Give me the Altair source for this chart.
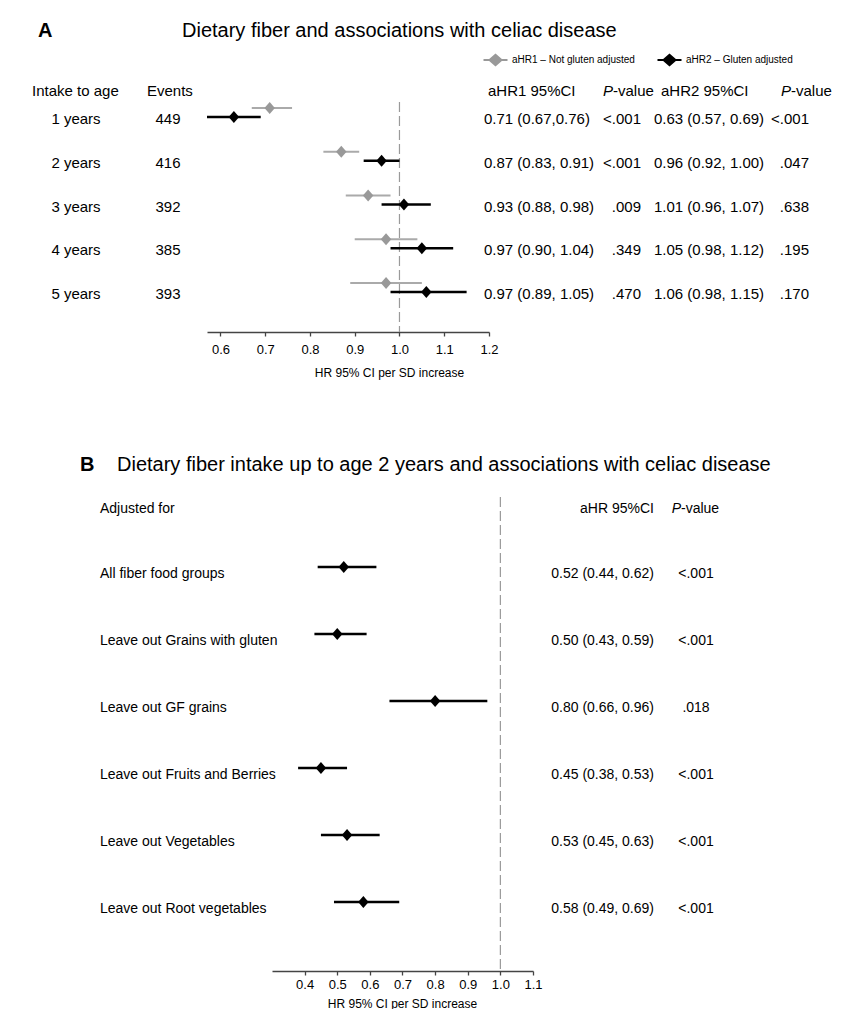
import altair as alt
import pandas as pd

FONT = "Liberation Sans"
GRAY_LINE = "#aaaaaa"
GRAY_PT = "#999999"
DIAMOND = "M0,-1.15L1,0L0,1.15L-1,0Z"
LEG_SYMBOL = "M-1.6,-0.13L1.6,-0.13L1.6,0.13L-1.6,0.13Z M0,-0.87L1,0L0,0.87L-1,0Z"

# ---------------- Panel A data ----------------
series = ["aHR1 \u2013 Not gluten adjusted", "aHR2 \u2013 Gluten adjusted"]
rows_a = [1, 2, 3, 4, 5]
ages = ["1 years", "2 years", "3 years", "4 years", "5 years"]
events = ["449", "416", "392", "385", "393"]
hr1 = [0.71, 0.87, 0.93, 0.97, 0.97]
lo1 = [0.67, 0.83, 0.88, 0.90, 0.89]
hi1 = [0.76, 0.91, 0.98, 1.04, 1.05]
p1 = ["<.001", "<.001", ".009", ".349", ".470"]
ci1_text = ["0.71 (0.67,0.76)", "0.87 (0.83, 0.91)", "0.93 (0.88, 0.98)",
            "0.97 (0.90, 1.04)", "0.97 (0.89, 1.05)"]
hr2 = [0.63, 0.96, 1.01, 1.05, 1.06]
lo2 = [0.57, 0.92, 0.96, 0.98, 0.98]
hi2 = [0.69, 1.00, 1.07, 1.12, 1.15]
p2 = ["<.001", ".047", ".638", ".195", ".170"]
ci2_text = ["0.63 (0.57, 0.69)", "0.96 (0.92, 1.00)", "1.01 (0.96, 1.07)",
            "1.05 (0.98, 1.12)", "1.06 (0.98, 1.15)"]
ticks_a = [0.6, 0.7, 0.8, 0.9, 1.0, 1.1, 1.2]

# ---------------- Panel B data ----------------
rows_b = [1, 2, 3, 4, 5, 6]
adjusted = ["All fiber food groups", "Leave out Grains with gluten", "Leave out GF grains",
            "Leave out Fruits and Berries", "Leave out Vegetables", "Leave out Root vegetables"]
hrb = [0.52, 0.50, 0.80, 0.45, 0.53, 0.58]
lob = [0.44, 0.43, 0.66, 0.38, 0.45, 0.49]
hib = [0.62, 0.59, 0.96, 0.53, 0.63, 0.69]
cib_text = ["0.52 (0.44, 0.62)", "0.50 (0.43, 0.59)", "0.80 (0.66, 0.96)",
            "0.45 (0.38, 0.53)", "0.53 (0.45, 0.63)", "0.58 (0.49, 0.69)"]
pb = ["<.001", "<.001", ".018", "<.001", "<.001", "<.001"]
ticks_b = [0.4, 0.5, 0.6, 0.7, 0.8, 0.9, 1.0, 1.1]
ref_value = [1.0]

axis_title = "HR 95% CI per SD increase"

dfA1 = pd.DataFrame({"row": rows_a, "series": series[0], "hr": hr1, "lo": lo1, "hi": hi1})
dfA2 = pd.DataFrame({"row": rows_a, "series": series[1], "hr": hr2, "lo": lo2, "hi": hi2})
dfAt = pd.DataFrame({"row": rows_a, "age": ages, "events": events, "ci1": ci1_text,
                     "p1": p1, "ci2": ci2_text, "p2": p2})
dfB = pd.DataFrame({"row": rows_b, "adj": adjusted, "hr": hrb, "lo": lob, "hi": hib,
                    "ci": cib_text, "p": pb})
dfRef = pd.DataFrame({"ref": ref_value})


def label(text, x, y, size, align="left", weight="normal", style="normal"):
    return alt.Chart(pd.DataFrame({"t": [text]})).mark_text(
        align=align, baseline="middle", font=FONT, fontSize=size,
        fontWeight=weight, fontStyle=style, color="black"
    ).encode(x=alt.value(x), y=alt.value(y), text="t:N")


def make_axis(values, title_x, title_y, label_pad):
    return alt.Axis(values=values, format=".1f", title=axis_title, grid=False,
                    labelFont=FONT, labelFontSize=13, labelColor="black",
                    labelPadding=label_pad, labelFlush=False, labelOverlap=False,
                    tickSize=4, tickColor="#444444", tickWidth=1.3,
                    domainColor="#444444", domainWidth=1.3,
                    titleFont=FONT, titleFontSize=12, titleFontWeight="normal",
                    titleColor="black", titleX=title_x, titleY=title_y,
                    titleAlign="center", titleBaseline="middle")


# ---------------- Panel A ----------------
WA, HA = 840, 324
xA = alt.Scale(domain=[0.57, 1.2], range=[199, 481], nice=False, zero=False)
yA = alt.Scale(domain=[1, 5], range=[109, 284], nice=False, zero=False)
axA = make_axis(ticks_a, 381, 40, 7)
colA = alt.Scale(domain=series, range=[GRAY_PT, "black"])
legA = alt.Legend(title=None, orient="none", legendX=480, legendY=44,
                  direction="horizontal", padding=0, symbolType=LEG_SYMBOL,
                  symbolSize=225, symbolStrokeWidth=0, symbolOpacity=1,
                  labelFont=FONT, labelFontSize=10, labelColor="black",
                  labelOffset=9, columnPadding=22)


def ci_layer(df, yoff, sw, color):
    return alt.Chart(df).mark_rule(strokeWidth=sw, yOffset=yoff, color=color).encode(
        x=alt.X("lo:Q", scale=xA, axis=axA),
        x2="hi:Q",
        y=alt.Y("row:Q", scale=yA, axis=None),
    )


def pt_layer(df, yoff):
    return alt.Chart(df).mark_point(filled=True, shape=DIAMOND, size=110, opacity=1,
                                    yOffset=yoff).encode(
        x=alt.X("hr:Q", scale=xA, axis=axA),
        y=alt.Y("row:Q", scale=yA, axis=None),
        color=alt.Color("series:N", scale=colA, legend=legA),
    )


refA = alt.Chart(dfRef).mark_rule(color="#9a9a9a", strokeWidth=1.2, strokeDash=[10, 4]).encode(
    x=alt.X("ref:Q", scale=xA, axis=axA), y=alt.value(94), y2=alt.value(324))


def col_text(field, x, align, size=15, dy=2):
    return alt.Chart(dfAt).mark_text(align=align, baseline="middle", font=FONT,
                                     fontSize=size, color="black", dy=dy).encode(
        x=alt.value(x), y=alt.Y("row:Q", scale=yA, axis=None), text=f"{field}:N")


panelA = alt.layer(
    refA,
    ci_layer(dfA1, -9, 2, GRAY_LINE), pt_layer(dfA1, -9),
    ci_layer(dfA2, 0, 2.5, "black"), pt_layer(dfA2, 0),
    col_text("age", 68, "center"),
    col_text("events", 160, "center"),
    col_text("ci1", 476, "left"),
    col_text("p1", 633, "right"),
    col_text("ci2", 646, "left"),
    col_text("p2", 801, "right"),
    label("A", 30, 23, 20, weight="bold"),
    label("Dietary fiber and associations with celiac disease", 174, 23, 20),
    label("Intake to age", 24, 83, 15),
    label("Events", 139, 83, 15),
    label("aHR1 95%CI", 480, 83, 15),
    label("P", 605, 83, 15, align="right", style="italic"),
    label("-value", 605, 83, 15),
    label("aHR2 95%CI", 653, 83, 15),
    label("P", 783, 83, 15, align="right", style="italic"),
    label("-value", 783, 83, 15),
).properties(width=WA, height=HA)

# ---------------- Panel B ----------------
WB, HB = 840, 521
xB = alt.Scale(domain=[0.3, 1.1], range=[264, 525], nice=False, zero=False)
yB = alt.Scale(domain=[1, 6], range=[117, 452], nice=False, zero=False)
axB = make_axis(ticks_b, 394, 32, 3)

refB = alt.Chart(dfRef).mark_rule(color="#9a9a9a", strokeWidth=1.2, strokeDash=[10, 4]).encode(
    x=alt.X("ref:Q", scale=xB, axis=axB), y=alt.value(47), y2=alt.value(521))
ciB = alt.Chart(dfB).mark_rule(strokeWidth=2.5, color="black").encode(
    x=alt.X("lo:Q", scale=xB, axis=axB), x2="hi:Q",
    y=alt.Y("row:Q", scale=yB, axis=None))
ptB = alt.Chart(dfB).mark_point(filled=True, shape=DIAMOND, size=110, opacity=1,
                                color="black").encode(
    x=alt.X("hr:Q", scale=xB, axis=axB),
    y=alt.Y("row:Q", scale=yB, axis=None))


def col_text_b(field, x, align):
    return alt.Chart(dfB).mark_text(align=align, baseline="middle", font=FONT,
                                    fontSize=14, color="black", dy=7).encode(
        x=alt.value(x), y=alt.Y("row:Q", scale=yB, axis=None), text=f"{field}:N")


panelB = alt.layer(
    refB, ciB, ptB,
    col_text_b("adj", 92, "left"),
    col_text_b("ci", 646, "right"),
    col_text_b("p", 688, "center"),
    label("B", 72, 15, 20, weight="bold"),
    label("Dietary fiber intake up to age 2 years and associations with celiac disease",
          109, 15, 20),
    label("Adjusted for", 92, 59, 14),
    label("aHR 95%CI", 646, 59, 14, align="right"),
    label("P", 673, 59, 14, align="right", style="italic"),
    label("-value", 673, 59, 14),
).properties(width=WB, height=HB)

chart = alt.VConcatChart(
    vconcat=[panelA, panelB], spacing=118, bounds="flush", padding=0,
    background="white",
).resolve_scale(color="independent").resolve_legend(color="independent").configure_view(stroke=None)

chart.save("out.html", embed_options={"renderer": "svg", "actions": False})
